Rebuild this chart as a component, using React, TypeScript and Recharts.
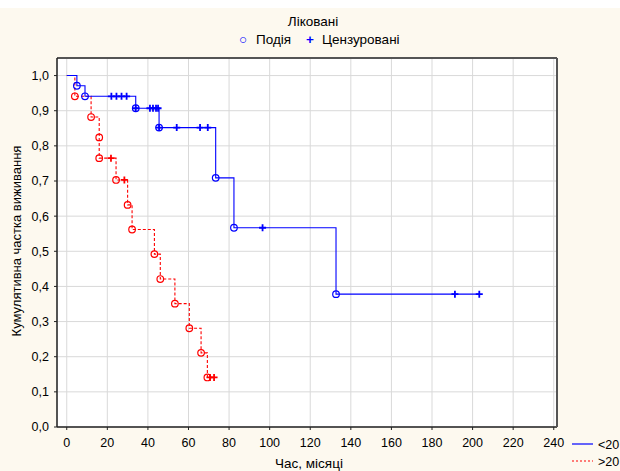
import React from "react";
import {
  ComposedChart,
  Line,
  Scatter,
  XAxis,
  YAxis,
  CartesianGrid,
  Legend,
  Label,
} from "recharts";

const timeTicks = [0, 20, 40, 60, 80, 100, 120, 140, 160, 180, 200, 220, 240];
const survivalTicks = [0, 0.1, 0.2, 0.3, 0.4, 0.5, 0.6, 0.7, 0.8, 0.9, 1.0];

const chartTitle = "Ліковані";
const markerNames = ["Подія", "Цензуровані"];
const groupNames = ["<20", ">20"];

// group <20 : step curve, events (circles), censored (+)
const lowCurve = [
  { t: 0, s: 1 },
  { t: 5, s: 0.971 },
  { t: 9, s: 0.941 },
  { t: 34, s: 0.907 },
  { t: 45.5, s: 0.852 },
  { t: 73.4, s: 0.709 },
  { t: 82.4, s: 0.567 },
  { t: 132.7, s: 0.378 },
  { t: 203.3, s: 0.378 },
];
const lowEvents = [
  { t: 5, s: 0.971 },
  { t: 9, s: 0.941 },
  { t: 34, s: 0.907 },
  { t: 45.5, s: 0.852 },
  { t: 73.4, s: 0.709 },
  { t: 82.4, s: 0.567 },
  { t: 132.7, s: 0.378 },
];
const lowCensored = [
  { t: 22, s: 0.941 },
  { t: 24.5, s: 0.941 },
  { t: 27, s: 0.941 },
  { t: 29.5, s: 0.941 },
  { t: 34, s: 0.907 },
  { t: 41, s: 0.907 },
  { t: 42.5, s: 0.907 },
  { t: 44, s: 0.907 },
  { t: 45, s: 0.907 },
  { t: 45.5, s: 0.852 },
  { t: 54.2, s: 0.852 },
  { t: 65.7, s: 0.852 },
  { t: 69.5, s: 0.852 },
  { t: 96.5, s: 0.567 },
  { t: 191.3, s: 0.378 },
  { t: 203.3, s: 0.378 },
];

// group >20
const highCurve = [
  { t: 0, s: 1 },
  { t: 4, s: 0.941 },
  { t: 12, s: 0.882 },
  { t: 16, s: 0.824 },
  { t: 16, s: 0.765 },
  { t: 24.3, s: 0.703 },
  { t: 30, s: 0.632 },
  { t: 32.2, s: 0.562 },
  { t: 43.2, s: 0.492 },
  { t: 46.1, s: 0.421 },
  { t: 53.3, s: 0.351 },
  { t: 60.4, s: 0.281 },
  { t: 66.2, s: 0.211 },
  { t: 69.3, s: 0.141 },
  { t: 72.6, s: 0.141 },
];
const highEvents = [
  { t: 4, s: 0.941 },
  { t: 12, s: 0.882 },
  { t: 16, s: 0.824 },
  { t: 16, s: 0.765 },
  { t: 24.3, s: 0.703 },
  { t: 30, s: 0.632 },
  { t: 32.2, s: 0.562 },
  { t: 43.2, s: 0.492 },
  { t: 46.1, s: 0.421 },
  { t: 53.3, s: 0.351 },
  { t: 60.4, s: 0.281 },
  { t: 66.2, s: 0.211 },
  { t: 69.3, s: 0.141 },
];
const highCensored = [
  { t: 21.8, s: 0.765 },
  { t: 28.4, s: 0.703 },
  { t: 70.6, s: 0.141 },
  { t: 72.6, s: 0.141 },
];

const FONT = "'Liberation Sans', Arial, sans-serif";
const BLUE = "#0000ff";
const RED = "#ff0000";
const X_DOMAIN = [-4.8, 241.6];
const Y_DOMAIN = [0, 1.05];

const fmt = (v: number) => v.toFixed(1).replace(".", ",");

const circleShape = (color: string) => (p: any) => {
  if (p.cx == null || p.cy == null) return <g />;
  return <circle cx={p.cx} cy={p.cy} r={3.3} fill="none" stroke={color} strokeWidth={1.2} />;
};

const crossShape = (color: string) => (p: any) => {
  if (p.cx == null || p.cy == null) return <g />;
  const { cx, cy } = p;
  return (
    <path
      d={`M${cx - 3.5},${cy}H${cx + 3.5}M${cx},${cy - 3.5}V${cy + 3.5}`}
      stroke={color}
      strokeWidth={1.8}
      fill="none"
    />
  );
};

const GroupLegend = () => (
  <svg width={50} height={30} style={{ overflow: "visible" }}>
    <line x1={0} y1={4} x2={21} y2={4} stroke={BLUE} strokeWidth={1.2} />
    <text x={26} y={8.5} fontSize={12.5} fontFamily={FONT} fill="#000">
      {groupNames[0]}
    </text>
    <line x1={0} y1={21} x2={21} y2={21} stroke={RED} strokeWidth={1.2} strokeDasharray="2 2" />
    <text x={26} y={25.5} fontSize={12.5} fontFamily={FONT} fill="#000">
      {groupNames[1]}
    </text>
  </svg>
);

const topText: React.CSSProperties = { position: "absolute", fontSize: 13.5, color: "#000", whiteSpace: "nowrap" };

export default function App() {
  return (
    <div
      style={{
        position: "absolute",
        left: 0,
        top: 0,
        width: 620,
        height: 471,
        background: "#ffffff",
        fontFamily: FONT,
        overflow: "hidden",
      }}
    >
      <div style={{ position: "absolute", left: 0, top: 8, width: 620, height: 463, background: "#fdf9ef" }} />
      <div style={{ ...topText, left: 0, top: 14, width: 626, textAlign: "center" }}>{chartTitle}</div>
      <span style={{ ...topText, left: 239, top: 32, color: BLUE }}>○</span>
      <span style={{ ...topText, left: 256, top: 32 }}>{markerNames[0]}</span>
      <span style={{ ...topText, left: 306, top: 32, color: BLUE, fontWeight: "bold" }}>+</span>
      <span style={{ ...topText, left: 322, top: 32 }}>{markerNames[1]}</span>
      <div style={{ position: "absolute", left: 0, top: 0 }}>
        <ComposedChart width={620} height={471} margin={{ top: 58, right: 63, bottom: 14, left: 12 }}>
          <CartesianGrid stroke="#d9d9d9" strokeWidth={1} fill="#ffffff" />
          <XAxis
            dataKey="t"
            type="number"
            domain={X_DOMAIN}
            ticks={timeTicks}
            interval={0}
            allowDataOverflow
            height={30}
            tickSize={3}
            tickMargin={8}
            axisLine={{ stroke: "#222", strokeWidth: 1.5 }}
            tickLine={{ stroke: "#222" }}
            tick={{ fontSize: 12.5, fontFamily: FONT, fill: "#000" }}
          >
            <Label
              content={() => (
                <text x={309} y={468} textAnchor="middle" fontSize={13.5} fontFamily={FONT} fill="#000">
                  Час, місяці
                </text>
              )}
            />
          </XAxis>
          <XAxis
            xAxisId="top"
            orientation="top"
            type="number"
            domain={X_DOMAIN}
            ticks={timeTicks}
            interval={0}
            allowDataOverflow
            mirror
            tick={false}
            tickSize={3}
            axisLine={{ stroke: "#555", strokeWidth: 2 }}
            tickLine={{ stroke: "#222" }}
          />
          <YAxis
            dataKey="s"
            type="number"
            domain={Y_DOMAIN}
            ticks={survivalTicks}
            interval={0}
            allowDataOverflow
            width={45}
            tickSize={3}
            tickMargin={5}
            tickFormatter={fmt}
            axisLine={{ stroke: "#222", strokeWidth: 1.5 }}
            tickLine={{ stroke: "#222" }}
            tick={{ fontSize: 12.5, fontFamily: FONT, fill: "#000" }}
          >
            <Label
              content={() => (
                <text
                  x={21}
                  y={241}
                  transform="rotate(-90 21 241)"
                  textAnchor="middle"
                  fontSize={13}
                  fontFamily={FONT}
                  fill="#000"
                >
                  Кумулятивна частка виживання
                </text>
              )}
            />
          </YAxis>
          <YAxis
            yAxisId="right"
            orientation="right"
            type="number"
            domain={Y_DOMAIN}
            ticks={survivalTicks}
            interval={0}
            allowDataOverflow
            mirror
            tick={false}
            tickSize={3}
            axisLine={{ stroke: "#555", strokeWidth: 2 }}
            tickLine={{ stroke: "#222" }}
          />
          <Line
            data={highCurve}
            dataKey="s"
            name={groupNames[1]}
            type="stepAfter"
            stroke={RED}
            strokeWidth={1.1}
            strokeDasharray="3 2"
            dot={false}
            activeDot={false}
            isAnimationActive={false}
          />
          <Line
            data={lowCurve}
            dataKey="s"
            name={groupNames[0]}
            type="stepAfter"
            stroke={BLUE}
            strokeWidth={1.1}
            dot={false}
            activeDot={false}
            isAnimationActive={false}
          />
          <Scatter data={highEvents} dataKey="s" shape={circleShape(RED)} isAnimationActive={false} legendType="none" />
          <Scatter data={highCensored} dataKey="s" shape={crossShape(RED)} isAnimationActive={false} legendType="none" />
          <Scatter data={lowEvents} dataKey="s" shape={circleShape(BLUE)} isAnimationActive={false} legendType="none" />
          <Scatter data={lowCensored} dataKey="s" shape={crossShape(BLUE)} isAnimationActive={false} legendType="none" />
          <Legend
            layout="vertical"
            align="center"
            verticalAlign="middle"
            wrapperStyle={{ left: 572, top: 440, width: 50, height: 30 }}
            content={() => <GroupLegend />}
          />
        </ComposedChart>
      </div>
    </div>
  );
}
